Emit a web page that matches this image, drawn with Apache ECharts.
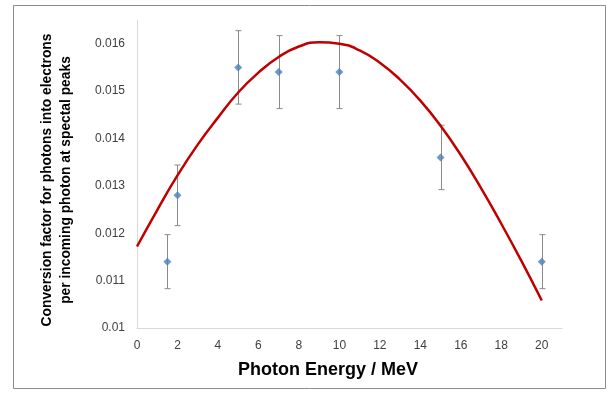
<!DOCTYPE html>
<html>
<head>
<meta charset="utf-8">
<script src="https://cdn.jsdelivr.net/npm/echarts@6/dist/echarts.min.js"></script>
<style>html,body{margin:0;padding:0;background:#fff;}#c{width:608px;height:394px;}</style>
</head>
<body>
<div id="c"></div>
<script>
// Measured points
var energies = [1.5, 2, 5, 7, 10, 15, 20];
var factors = [0.0114, 0.0128, 0.0155, 0.0154, 0.0154, 0.0136, 0.0114];
var errors = [0.00057, 0.00064, 0.000775, 0.00077, 0.00077, 0.00068, 0.00057];
// Fitted trend curve
var curveX = [0,1,2,3,4,5,6,7,8,9,10,11,12,13,14,15,16,17,18,19,20];
var curveY = [0.01172,0.01249,0.01322,0.01387,0.01444,0.01497,0.01539,0.01572,0.01594,0.01603,0.01600,0.01586,0.01560,0.01524,0.01480,0.01427,0.01365,0.01295,0.01220,0.01141,0.01058];
var xTitle = 'Photon Energy / MeV';
var yTitle = 'Conversion factor for photons into electrons\nper incoming photon at spectal peaks';

var chart = echarts.init(document.getElementById('c'), null, {renderer: 'canvas'});
var pts = energies.map(function (e, i) { return [e, factors[i]]; });
var errData = energies.map(function (e, i) { return [e, factors[i] - errors[i], factors[i] + errors[i]]; });
var curve = curveX.map(function (x, i) { return [x, curveY[i]]; });
var fontF = '"Liberation Sans", Arial, sans-serif';

chart.setOption({
  animation: false,
  backgroundColor: '#fff',
  grid: {left: 137, top: 20, right: 46, bottom: 66, containLabel: false},
  xAxis: {
    type: 'value', min: 0, max: 21, interval: 2,
    axisLine: {show: true, lineStyle: {color: '#d9d9d9', width: 1}},
    axisTick: {show: false},
    splitLine: {show: false},
    axisLabel: {showMaxLabel: false, color: '#404040', fontSize: 12, fontFamily: fontF, margin: 12}
  },
  yAxis: {
    type: 'value', min: 0.01, max: 0.0165, interval: 0.001,
    axisLine: {show: true, lineStyle: {color: '#d9d9d9', width: 1}},
    axisTick: {show: false},
    splitLine: {show: false},
    axisLabel: {showMaxLabel: false, color: '#404040', fontSize: 12, fontFamily: fontF, margin: 12,
      formatter: function (v) { return String(+v.toFixed(4)); }}
  },
  graphic: [
    {type: 'rect', shape: {x: 13.5, y: 5.5, width: 592, height: 383}, style: {fill: null, stroke: '#8c8c8c', lineWidth: 1}, silent: true, z: -1},
    {type: 'text', x: 328, y: 370, style: {text: xTitle, font: 'bold 18px ' + fontF, fill: '#000', textAlign: 'center', textVerticalAlign: 'middle'}},
    {type: 'text', x: 57, y: 180, rotation: Math.PI / 2, style: {text: yTitle, font: 'bold 13.8px ' + fontF, fill: '#000', textAlign: 'center', textVerticalAlign: 'middle', lineHeight: 19}}
  ],
  series: [
    {
      type: 'custom',
      data: errData,
      z: 2,
      renderItem: function (params, api) {
        var lo = api.coord([api.value(0), api.value(1)]);
        var hi = api.coord([api.value(0), api.value(2)]);
        var x = Math.round(lo[0]) + 0.5;
        var cap = 3;
        var st = {stroke: '#8a8a8a', lineWidth: 1};
        return {type: 'group', children: [
          {type: 'line', shape: {x1: x, y1: hi[1], x2: x, y2: lo[1]}, style: st},
          {type: 'line', shape: {x1: x - cap, y1: hi[1], x2: x + cap, y2: hi[1]}, style: st},
          {type: 'line', shape: {x1: x - cap, y1: lo[1], x2: x + cap, y2: lo[1]}, style: st}
        ]};
      }
    },
    {
      type: 'line', data: curve, smooth: true, showSymbol: false, z: 3,
      lineStyle: {color: '#c00000', width: 2.5}
    },
    {
      type: 'scatter', data: pts, symbol: 'diamond', symbolSize: 8, z: 4,
      itemStyle: {color: '#4a7ebb'}
    }
  ]
});
</script>
</body>
</html>
